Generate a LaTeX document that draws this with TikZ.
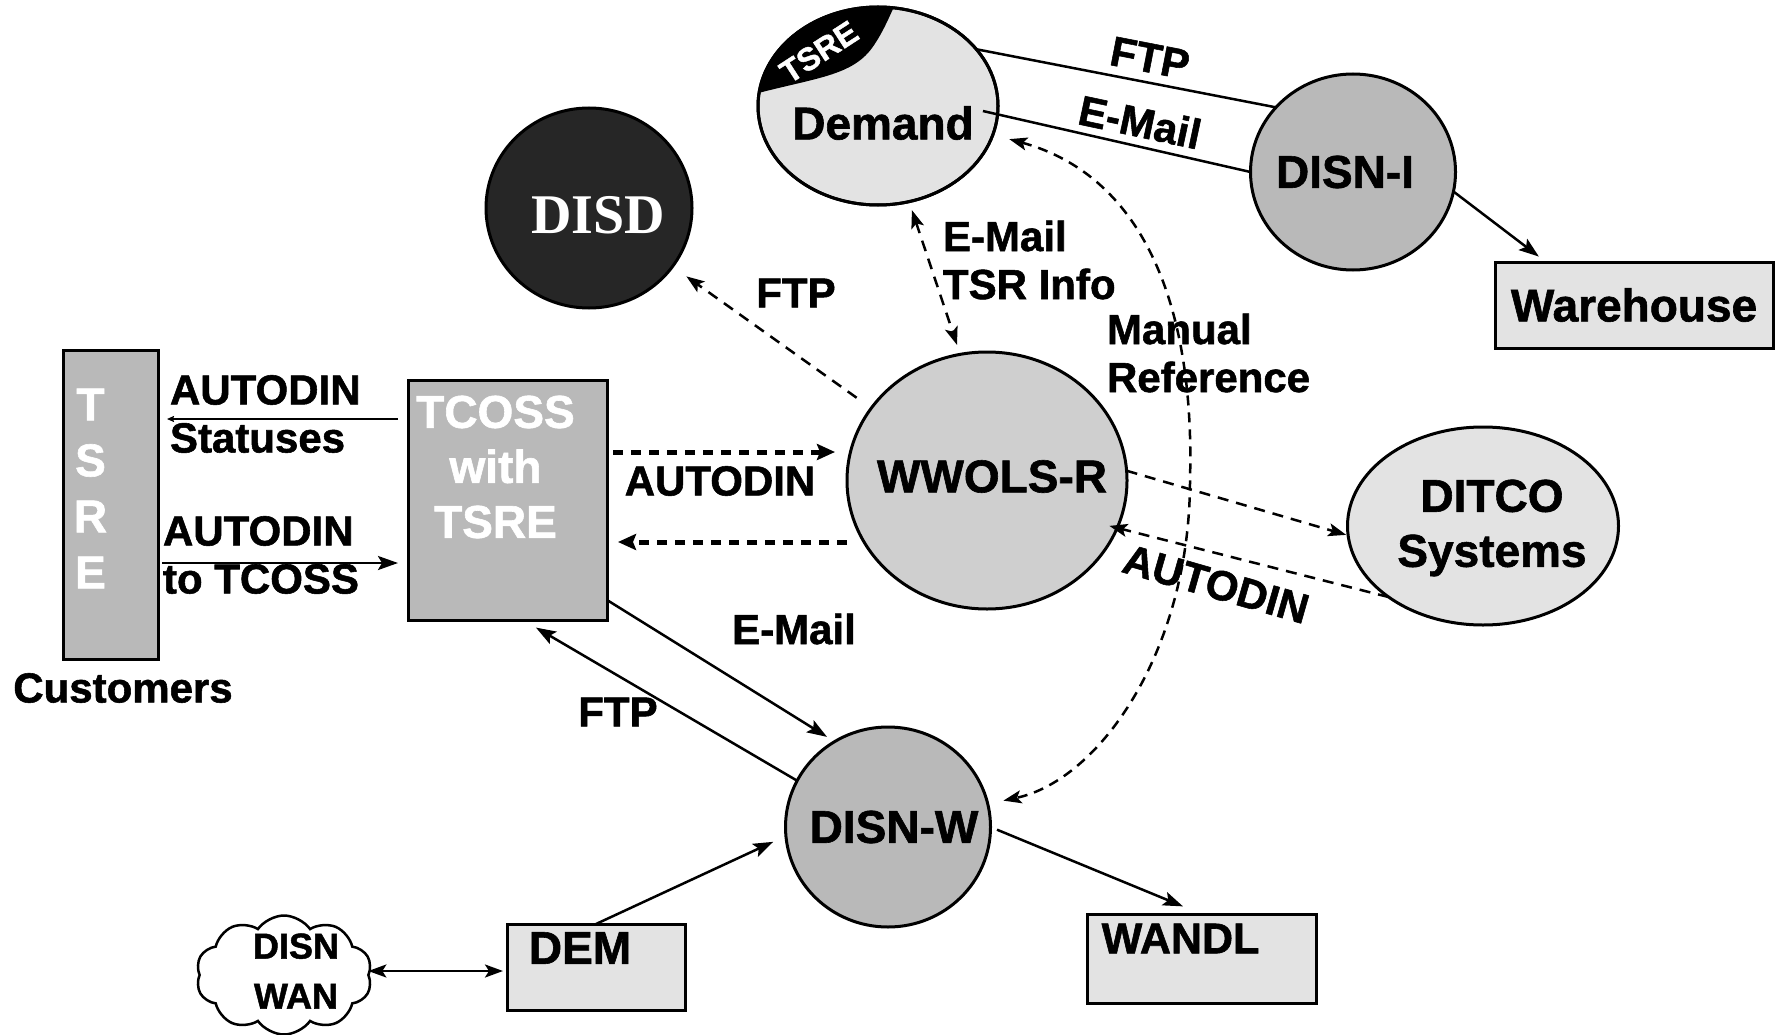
\documentclass[tikz,border=0pt]{standalone}
\usepackage{fontspec}
\setmainfont{Liberation Sans}[BoldFeatures={FakeBold=1.3}]
\newfontfamily\disdfont{Liberation Serif}
\usetikzlibrary{shapes.geometric,shapes.symbols,arrows.meta}
\newcommand\myNodeFont{\fontsize{46}{55}\selectfont\bfseries}
\newcommand\myLabFont{\fontsize{42}{48}\selectfont\bfseries}
\begin{document}
\begin{tikzpicture}[x=1pt,y=-1pt,
  every node/.style={inner sep=0pt, outer sep=0pt},
  bord/.style={draw=black, line width=3pt},
  lightfill/.style={fill=gray!22},
  midfill/.style={fill=gray!38},
  darkfill/.style={fill=gray!55},
  conn/.style={line width=2.5pt},
  arr/.style={line width=2.5pt, -{Stealth[length=20pt,width=14pt,inset=4pt]}},
  smallarr/.style={line width=2.5pt, -{Stealth[length=7pt,width=6pt,inset=1pt]}},
  biarr/.style={line width=2.5pt, {Stealth[length=18pt,width=13pt,inset=4pt]}-{Stealth[length=18pt,width=13pt,inset=4pt]}},
  darr/.style={line width=2.5pt, dash pattern=on 11pt off 8pt, -{Stealth[length=18pt,width=13pt,inset=4pt]}},
  dbiarr/.style={line width=2.5pt, dash pattern=on 11pt off 8pt, {Stealth[length=18pt,width=13pt,inset=4pt]}-{Stealth[length=18pt,width=13pt,inset=4pt]}},
  dotarr/.style={line width=5pt, dash pattern=on 10pt off 8pt, -{Stealth[length=18pt,width=16pt,inset=3pt]}},
  lab/.style={font=\myLabFont},
  labl/.style={font=\myLabFont, align=left, anchor=west}
]
\useasboundingbox (0,0) rectangle (1779,1035);
\fill[white] (0,0) rectangle (1779,1035);

% ---------- nodes ----------
\node[ellipse, bord, lightfill, minimum width=240pt, minimum height=198pt,
  label={[name=demandlab, shift={(5,17)}, font=\myNodeFont]center:Demand}] (demand) at (878,106) {};
\begin{scope}
  \clip (demand.center) ellipse [x radius=120, y radius=99];
  \fill[black] (740,98) .. controls (810,78) and (850,78) .. (872,48)
     .. controls (882,34) and (888,20) .. (897,0) -- (740,0) -- cycle;
\end{scope}
\draw[line width=3pt] (demand.center) ellipse [x radius=120, y radius=99];
\node[font=\fontsize{32}{36}\selectfont\bfseries, text=white, rotate=33] (tsrecap) at (819,52) {TSRE};

\node[ellipse, bord, fill=black!85, minimum width=206pt, minimum height=200pt,
  label={[name=disdlab, shift={(9,7)}, text=white, font=\disdfont\fontsize{56}{60}\selectfont\bfseries]center:DISD}] (disd) at (589,208) {};

\node[ellipse, bord, darkfill, minimum width=205pt, minimum height=196pt,
  label={[name=disnIlab, shift={(-8,0)}, font=\myNodeFont]center:DISN-I}] (disnI) at (1353,172) {};

\node[rectangle, bord, lightfill, minimum width=278pt, minimum height=86pt, font=\myNodeFont] (warehouse) at (1634,305) {Warehouse};

\node[rectangle, bord, darkfill, minimum width=95pt, minimum height=309pt,
  label={[name=custtsre, shift={(-20,-16)}, align=center, text=white, font=\fontsize{46}{56}\selectfont\bfseries]center:T\\S\\R\\E}] (cust) at (110.5,504.5) {};
\node[lab] (customers) at (123,688) {Customers};

\node[rectangle, bord, darkfill, minimum width=199pt, minimum height=240pt,
  label={[name=tcosslab, shift={(-12,-33)}, align=center, text=white, font=\myNodeFont]center:TCOSS\\with\\TSRE}] (tcoss) at (507.5,500) {};

\node[ellipse, bord, midfill, minimum width=280pt, minimum height=257pt,
  label={[name=wwolslab, shift={(5,-4)}, font=\myNodeFont]center:WWOLS-R}] (wwols) at (987,480.5) {};

\node[ellipse, bord, lightfill, minimum width=271pt, minimum height=198pt,
  label={[name=ditcolab, shift={(9,2)}, align=center, font=\myNodeFont]center:DITCO\\Systems}] (ditco) at (1483,526) {};

\node[ellipse, bord, darkfill, minimum width=205pt, minimum height=200pt,
  label={[name=disnWlab, shift={(6,0)}, font=\myNodeFont]center:DISN-W}] (disnW) at (888,827) {};

\node[rectangle, bord, lightfill, minimum width=229pt, minimum height=89pt,
  label={[name=wandllab, shift={(-21,-20)}, font=\fontsize{43}{50}\selectfont\bfseries]center:WANDL}] (wandl) at (1201.5,958.5) {};

\node[rectangle, bord, lightfill, minimum width=178pt, minimum height=86pt,
  label={[name=demlab, shift={(-16,-19)}, font=\myNodeFont]center:DEM}] (dem) at (596,967) {};

\node[cloud, cloud puffs=10, cloud puff arc=110, aspect=1.48, draw, line width=2.5pt, fill=white,
  minimum width=176pt, minimum height=119pt,
  label={[name=cloudlab, shift={(12,-4)}, align=center, font=\fontsize{36}{50}\selectfont\bfseries]center:DISN\\WAN}] (cloud) at (284,975) {};

% ---------- connectors ----------
\draw[conn] (demand.30) -- (disnI.140);
\draw[conn, shorten <=-15pt] (demand.-4.5) -- (disnI.west);
\draw[arr, shorten >=9pt] (disnI.-11.5) -- ([xshift=-88pt]warehouse.north);

\draw[dbiarr, shorten <=9pt, shorten >=10pt] (demand.-72) -- (wwols.102);
\draw[darr, shorten <=18pt, shorten >=17pt] (wwols.148) -- (disd.-35);

\coordinate (ta) at ([yshift=48pt]tcoss.east);
\coordinate (tb) at ([yshift=-42pt]tcoss.east);
\draw[dotarr, shorten <=6pt, shorten >=12pt] (ta) -- (ta -| wwols.west);
\draw[dotarr, shorten >=11pt] (tb -| wwols.west) -- (tb);

\draw[darr, shorten >=2pt] (wwols.4) -- (ditco.184);
\draw[darr, shorten >=-8pt] (ditco.217) -- (wwols.-20);

\draw[arr, shorten >=9pt] ([yshift=20pt]tcoss.south east) -- (disnW.122);
\draw[arr, shorten >=15pt] (disnW.153) -- ([xshift=15.5pt]tcoss.south);
\draw[arr, shorten >=14pt] (dem.north) -- (disnW.185);
\draw[arr, shorten <=7pt, shorten >=20pt] (disnW.east) -- (wandl.north);

\coordinate (dc) at ([yshift=-4pt]dem.west);
\draw[biarr, shorten >=4pt] (dc -| cloud.east) -- (dc);

\coordinate (sa) at ([yshift=81pt]tcoss.west);
\coordinate (sb) at ([yshift=-63pt]tcoss.west);
\draw[smallarr, shorten <=10pt, shorten >=9pt] (sa) -- (sa -| cust.east);
\draw[arr, shorten <=4pt, shorten >=10pt] (sb -| cust.east) -- (sb);

\coordinate (mref) at (1190,480);
\draw[dbiarr, dash pattern=on 10pt off 7pt, shorten <=17pt, shorten >=16pt]
  (demand.-14) .. controls (1140,175) and (1195,300) .. (mref)
  .. controls (1190,650) and (1100,780) .. (disnW.13);

% ---------- labels ----------
\node[labl] (l1) at (170,414) {AUTODIN\\Statuses};
\node[labl] (l2) at (163,555) {AUTODIN\\to TCOSS};
\node[labl] (l3) at (943,260) {E-Mail\\TSR Info};
\node[labl] (l4) at (1107,353) {Manual\\Reference};
\node[lab] (l5) at (720,481) {AUTODIN};
\node[lab] (l6) at (796,293) {FTP};
\node[lab, rotate=-11] (l7) at (1150,58) {FTP};
\node[lab, rotate=-12] (l8) at (1140,122) {E-Mail};
\node[lab, rotate=-16] (l9) at (1216,584) {AUTODIN};
\node[lab] (l10) at (794,629) {E-Mail};
\node[lab] (l11) at (618,712) {FTP};
\end{tikzpicture}
\end{document}
